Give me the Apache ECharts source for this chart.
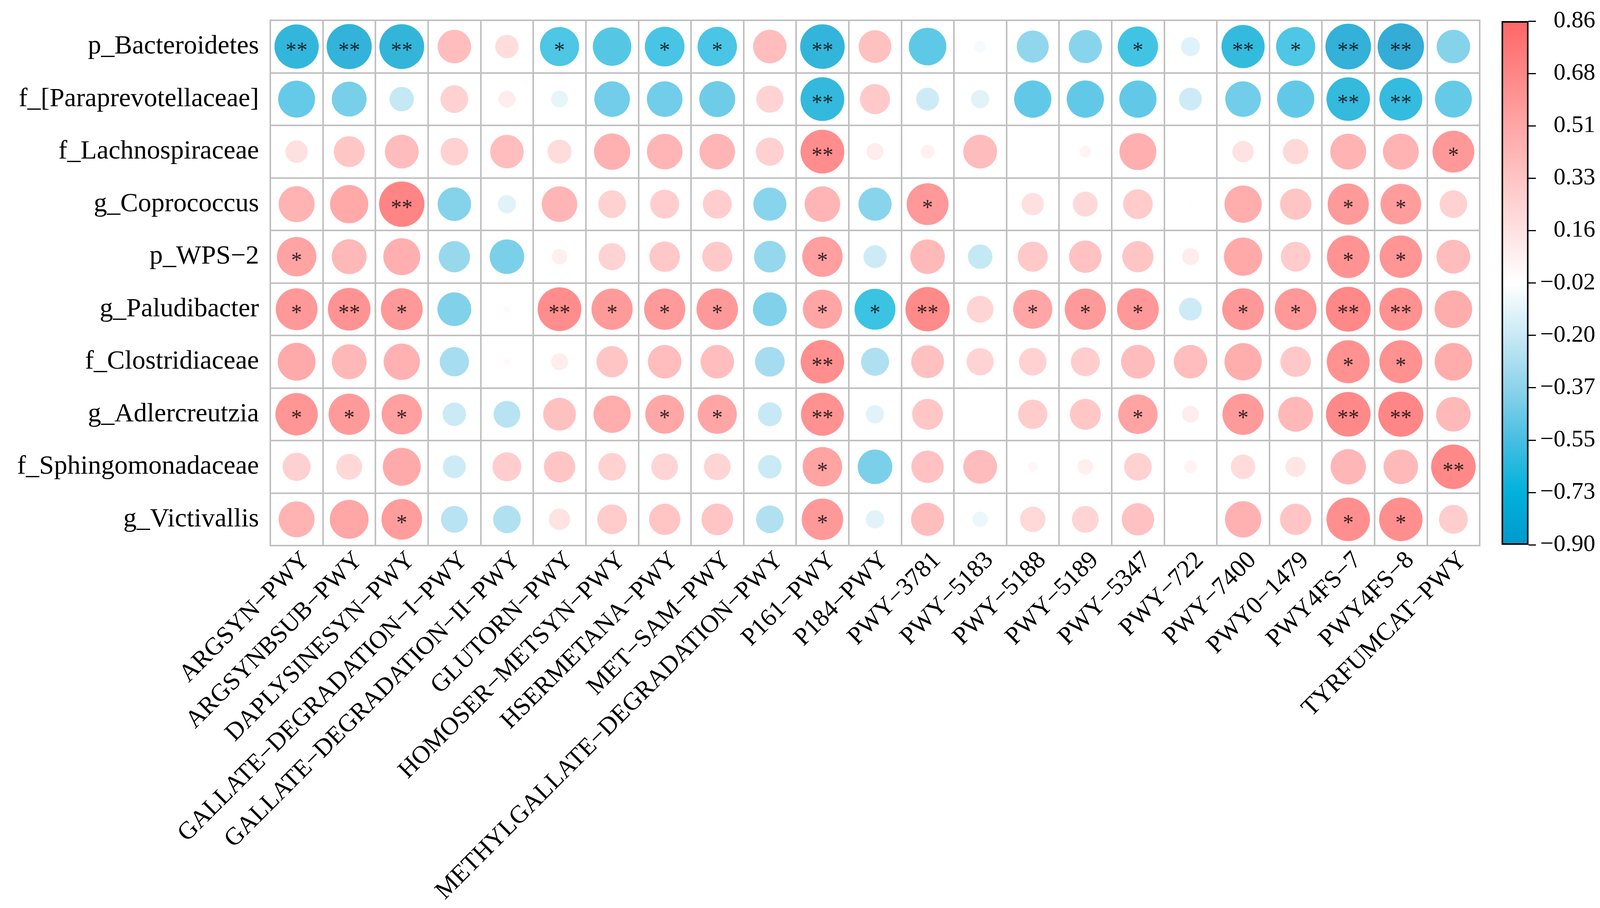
<!DOCTYPE html>
<html><head><meta charset="utf-8">
<script src="https://cdn.jsdelivr.net/npm/echarts@6/dist/echarts.min.js"></script>
<style>html,body{margin:0;padding:0;background:#fff}#c{width:4114px;height:2325px}</style>
</head><body><div id="c"></div>
<script>
// ---------------- data ----------------
const taxa = ['p_Bacteroidetes','f_[Paraprevotellaceae]','f_Lachnospiraceae','g_Coprococcus','p_WPS\u22122',
  'g_Paludibacter','f_Clostridiaceae','g_Adlercreutzia','f_Sphingomonadaceae','g_Victivallis'];
const pathways = ['ARGSYN\u2212PWY','ARGSYNBSUB\u2212PWY','DAPLYSINESYN\u2212PWY','GALLATE\u2212DEGRADATION\u2212I\u2212PWY',
  'GALLATE\u2212DEGRADATION\u2212II\u2212PWY','GLUTORN\u2212PWY','HOMOSER\u2212METSYN\u2212PWY','HSERMETANA\u2212PWY',
  'MET\u2212SAM\u2212PWY','METHYLGALLATE\u2212DEGRADATION\u2212PWY','P161\u2212PWY','P184\u2212PWY','PWY\u22123781',
  'PWY\u22125183','PWY\u22125188','PWY\u22125189','PWY\u22125347','PWY\u2212722','PWY\u22127400','PWY0\u22121479',
  'PWY4FS\u22127','PWY4FS\u22128','TYRFUMCAT\u2212PWY'];

const rBacteroidetes      = [-0.82,-0.85,-0.84, 0.47, 0.23,-0.64,-0.62,-0.66,-0.65, 0.47,-0.83, 0.45,-0.59,-0.06,-0.43,-0.46,-0.68,-0.15,-0.78,-0.64,-0.87,-0.90,-0.47];
const rParaprevotellaceae = [-0.57,-0.51,-0.25, 0.32, 0.12,-0.12,-0.53,-0.53,-0.54, 0.31,-0.80, 0.38,-0.22,-0.14,-0.58,-0.58,-0.58,-0.22,-0.53,-0.58,-0.79,-0.77,-0.57];
const rLachnospiraceae    = [ 0.21, 0.40, 0.48, 0.32, 0.47, 0.24, 0.55, 0.53, 0.53, 0.33, 0.80, 0.12, 0.08, 0.48, 0.00, 0.06, 0.57, 0.00, 0.19, 0.27, 0.54, 0.54, 0.73];
const rCoprococcus        = [ 0.54, 0.61, 0.86,-0.47,-0.14, 0.53, 0.32, 0.35, 0.35,-0.46, 0.53,-0.46, 0.73, 0.00, 0.21, 0.26, 0.37,-0.01, 0.58, 0.41, 0.71, 0.69, 0.32];
const rWPS2               = [ 0.65, 0.51, 0.57,-0.41,-0.50, 0.10, 0.31, 0.39, 0.38,-0.42, 0.68,-0.22, 0.50,-0.25, 0.38, 0.44, 0.41, 0.12, 0.61, 0.37, 0.76, 0.75, 0.48];
const rPaludibacter       = [ 0.73, 0.76, 0.73,-0.48, 0.02, 0.80, 0.71, 0.71, 0.72,-0.48, 0.64,-0.70, 0.82, 0.30, 0.64, 0.71, 0.73,-0.22, 0.73, 0.73, 0.84, 0.77, 0.59];
const rClostridiaceae     = [ 0.60, 0.51, 0.55,-0.36, 0.02, 0.12, 0.41, 0.47, 0.47,-0.37, 0.79,-0.33, 0.45, 0.31, 0.32, 0.35, 0.48, 0.47, 0.58, 0.39, 0.77, 0.77, 0.59];
const rAdlercreutzia      = [ 0.75, 0.71, 0.68,-0.23,-0.30, 0.45, 0.58, 0.63, 0.64,-0.24, 0.77,-0.14, 0.40, 0.00, 0.36, 0.40, 0.65, 0.12, 0.71, 0.51, 0.83, 0.85, 0.50];
const rSphingomonadaceae  = [ 0.33, 0.28, 0.60,-0.22, 0.35, 0.41, 0.32, 0.30, 0.30,-0.23, 0.65,-0.50, 0.44, 0.48, 0.04, 0.10, 0.32, 0.07, 0.25, 0.17, 0.52, 0.50, 0.83];
const rVictivallis        = [ 0.54, 0.63, 0.69,-0.30,-0.32, 0.19, 0.37, 0.41, 0.42,-0.32, 0.72,-0.14, 0.46,-0.10, 0.27, 0.30, 0.44, 0.00, 0.55, 0.41, 0.79, 0.79, 0.35];

const sBacteroidetes      = ['**','**','**','','','*','','*','*','','**','','','','','','*','','**','*','**','**',''];
const sParaprevotellaceae = ['','','','','','','','','','','**','','','','','','','','','','**','**',''];
const sLachnospiraceae    = ['','','','','','','','','','','**','','','','','','','','','','','','*'];
const sCoprococcus        = ['','','**','','','','','','','','','','*','','','','','','','','*','*',''];
const sWPS2               = ['*','','','','','','','','','','*','','','','','','','','','','*','*',''];
const sPaludibacter       = ['*','**','*','','','**','*','*','*','','*','*','**','','*','*','*','','*','*','**','**',''];
const sClostridiaceae     = ['','','','','','','','','','','**','','','','','','','','','','*','*',''];
const sAdlercreutzia      = ['*','*','*','','','','','*','*','','**','','','','','','*','','*','','**','**',''];
const sSphingomonadaceae  = ['','','','','','','','','','','*','','','','','','','','','','','','**'];
const sVictivallis        = ['','','*','','','','','','','','*','','','','','','','','','','*','*',''];

const colorbarTicks = ['\u22120.90','\u22120.73','\u22120.55','\u22120.37','\u22120.20','\u22120.02','0.16','0.33','0.51','0.68','0.86'];
const colorMin = -0.90, colorMax = 0.86;

// ---------------- build ----------------
const corrRows = [rBacteroidetes,rParaprevotellaceae,rLachnospiraceae,rCoprococcus,rWPS2,rPaludibacter,rClostridiaceae,rAdlercreutzia,rSphingomonadaceae,rVictivallis];
const sigRows  = [sBacteroidetes,sParaprevotellaceae,sLachnospiraceae,sCoprococcus,sWPS2,sPaludibacter,sClostridiaceae,sAdlercreutzia,sSphingomonadaceae,sVictivallis];
const points = [];
corrRows.forEach((row, i) => row.forEach((v, j) => points.push([j, i, v, sigRows[i][j]])));

const palette = ['#0099CC','#00B2DB','#47BEE2','#8DD3EB','#C8E9F5','#FFFFFF','#FFE1E1','#FFC4C4','#FFA6A6','#FF8686','#FF6666'];
const GRID = {left: 692, top: 52, width: 3096, height: 1345};
const cellW = GRID.width / pathways.length;
const FONT = 'Liberation Serif, Times New Roman, serif';
const gridLine = {show: true, interval: 0, lineStyle: {color: '#C0C0C0', width: 4}};

const chart = echarts.init(document.getElementById('c'), null, {renderer: 'canvas'});
chart.setOption({
  animation: false,
  backgroundColor: '#fff',
  grid: [
    Object.assign({show: true, borderColor: '#C0C0C0', borderWidth: 4, backgroundColor: '#fff'}, GRID),
    {left: 3844, top: 54, width: 69, height: 1341}
  ],
  xAxis: [
    {type: 'category', gridIndex: 0, data: pathways, boundaryGap: true,
      axisLine: {show: false}, axisTick: {show: false}, splitLine: gridLine,
      axisLabel: {interval: 0, rotate: 45, margin: 52, padding: [0, -34, 0, 0], fontSize: 64, fontFamily: FONT, color: '#000'}},
    {type: 'category', gridIndex: 1, data: ['bar'], show: false}
  ],
  yAxis: [
    {type: 'category', gridIndex: 0, data: taxa, inverse: true, boundaryGap: true,
      axisLine: {show: false}, axisTick: {show: false}, splitLine: gridLine,
      axisLabel: {interval: 0, margin: 29, fontSize: 68, fontFamily: FONT, color: '#000'}},
    {type: 'value', gridIndex: 1, min: 0, max: colorbarTicks.length - 1, interval: 1, position: 'right',
      axisLine: {show: false}, splitLine: {show: false},
      axisTick: {show: true, length: 19, lineStyle: {color: '#000', width: 3}},
      axisLabel: {formatter: v => colorbarTicks[Math.round(v)], align: 'right', margin: 171,
        fontSize: 61, fontFamily: FONT, color: '#000'}}
  ],
  visualMap: {type: 'continuous', show: false, min: colorMin, max: colorMax, dimension: 2, seriesIndex: 0,
    inRange: {color: palette}},
  series: [
    {type: 'scatter', xAxisIndex: 0, yAxisIndex: 0, data: points, symbol: 'circle',
      symbolSize: d => cellW * 0.93 * Math.sqrt(Math.abs(d[2])),
      label: {show: true, position: 'inside', formatter: p => p.data[3], fontSize: 56, fontFamily: FONT,
        color: '#000', offset: [0, 13]},
      emphasis: {disabled: true}},
    {type: 'bar', xAxisIndex: 1, yAxisIndex: 1, data: [colorbarTicks.length - 1], barWidth: '100%', silent: true,
      itemStyle: {color: new echarts.graphic.LinearGradient(0, 1, 0, 0,
        palette.map((c, i) => ({offset: i / (palette.length - 1), color: c}))), borderColor: '#000', borderWidth: 4}}
  ]
});
</script>
</body></html>
